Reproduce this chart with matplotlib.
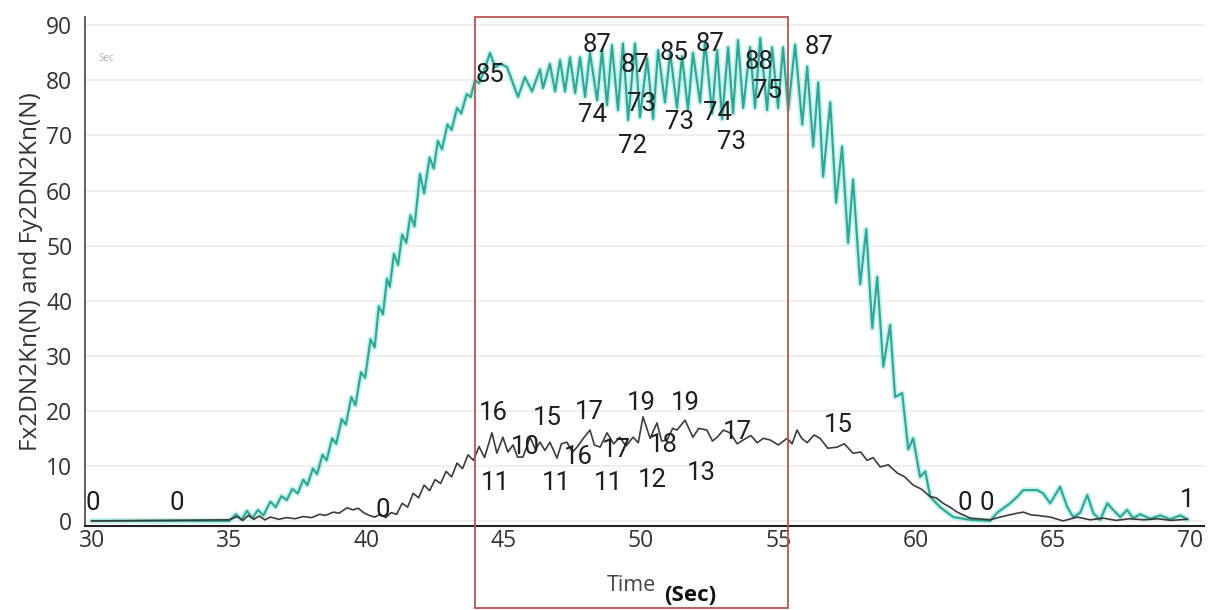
import matplotlib
matplotlib.use("Agg")
import matplotlib.pyplot as plt
from matplotlib.patches import Rectangle

plt.rcParams['font.family'] = ['Open Sans', 'DejaVu Sans']

# teal trace (Fy2DN2Kn), time in sec, force in N
fy_time = [30.0, 35.0, 35.25, 35.45, 35.65, 35.85, 36.05, 36.25, 36.5, 36.7, 36.9, 37.1,
           37.3, 37.5, 37.7, 37.85, 38.05, 38.2, 38.4, 38.55, 38.75, 38.9, 39.1, 39.25,
           39.45, 39.6, 39.8, 39.95, 40.15, 40.3, 40.45, 40.6, 40.75, 40.85, 41.0, 41.15,
           41.3, 41.45, 41.6, 41.75, 41.95, 42.1, 42.3, 42.45, 42.6, 42.75, 42.95, 43.1,
           43.3, 43.45, 43.65, 43.8, 43.95, 44.1, 44.3, 44.5, 44.68, 44.9, 45.12, 45.52,
           45.77, 46.03, 46.32, 46.43, 46.68, 46.87, 47.05, 47.23, 47.41, 47.6, 47.78,
           47.96, 48.14, 48.4, 48.58, 48.76, 48.94, 49.16, 49.34, 49.53, 49.78, 49.96,
           50.22, 50.44, 50.62, 50.87, 51.06, 51.31, 51.49, 51.71, 51.89, 52.15, 52.33,
           52.59, 52.77, 52.95, 53.17, 53.35, 53.53, 53.72, 53.97, 54.15, 54.34, 54.59,
           54.77, 54.99, 55.17, 55.36, 55.61, 55.87, 56.05, 56.27, 56.45, 56.63, 56.89,
           57.1, 57.32, 57.54, 57.72, 57.98, 58.2, 58.42, 58.6, 58.82, 59.07, 59.25,
           59.51, 59.73, 59.91, 60.16, 60.35, 60.53, 60.89, 61.37, 61.99, 62.71, 62.97,
           63.44, 63.7, 63.92, 64.17, 64.43, 64.64, 64.9, 65.26, 65.52, 65.74, 65.99,
           66.25, 66.47, 66.72, 66.98, 67.19, 67.45, 67.7, 67.92, 68.18, 68.54, 68.91,
           69.27, 69.64, 69.89]
fy_value = [0.0, 0.0, 1.2, 0.2, 1.8, 0.5, 2.0, 1.0, 3.5, 2.5, 4.5, 3.8,
            5.8, 5.0, 7.5, 6.5, 9.5, 8.5, 12.0, 11.0, 15.0, 14.0, 18.5, 17.5,
            22.5, 21.0, 27.0, 26.0, 33.0, 31.5, 39.0, 37.5, 44.0, 42.5, 48.5, 46.5,
            52.0, 50.5, 55.5, 53.5, 63.0, 59.5, 66.0, 64.0, 69.0, 67.5, 72.0, 71.0,
            75.0, 74.0, 77.5, 77.0, 80.0, 79.5, 82.0, 85.0, 82.4, 83.0, 82.4, 77.0,
            80.6, 78.0, 82.0, 78.6, 83.0, 78.0, 83.7, 78.0, 84.2, 77.7, 84.2,
            77.0, 85.0, 76.4, 85.5, 75.5, 86.4, 74.6, 86.7, 72.8, 86.7, 73.3,
            84.0, 73.0, 85.5, 76.0, 85.0, 75.0, 84.4, 74.7, 85.0, 76.0, 87.0,
            74.0, 85.5, 73.0, 86.0, 74.0, 87.3, 75.0, 86.0, 75.0, 87.7, 74.6,
            86.0, 75.0, 86.0, 74.7, 86.5, 72.0, 82.5, 68.0, 79.6, 62.5, 76.0,
            57.8, 68.0, 50.5, 62.0, 43.0, 53.0, 35.0, 44.3, 28.0, 35.6, 22.5,
            23.2, 13.0, 15.0, 8.0, 9.0, 4.4, 2.5, 0.7, 0.2, 0.0, 1.5,
            3.2, 4.4, 5.6, 5.6, 5.6, 5.0, 3.2, 6.2, 2.5, 0.7, 1.5,
            4.7, 1.4, 0.2, 3.2, 2.0, 0.7, 2.0, 0.5, 1.2, 0.4, 1.0,
            0.3, 1.0, 0.3]

# dark trace (Fx2DN2Kn)
fx_time = [30.0, 35.0, 35.3, 35.5, 35.7, 35.9, 36.1, 36.3, 36.5, 36.8, 37.1, 37.4,
           37.7, 38.0, 38.3, 38.5, 38.8, 39.0, 39.3, 39.5, 39.7, 39.9, 40.1, 40.3,
           40.5, 40.7, 40.9, 41.1, 41.3, 41.5, 41.7, 41.9, 42.1, 42.3, 42.5, 42.7,
           42.9, 43.1, 43.3, 43.5, 43.7, 43.9, 44.1, 44.3, 44.57, 44.75, 44.97, 45.15,
           45.34, 45.5, 45.7, 45.96, 46.15, 46.32, 46.5, 46.68, 46.94, 47.1, 47.3,
           47.5, 47.67, 47.9, 48.14, 48.3, 48.51, 48.76, 49.0, 49.23, 49.45, 49.71,
           49.9, 50.07, 50.33, 50.58, 50.75, 50.95, 51.15, 51.31, 51.6, 51.89, 52.1,
           52.4, 52.6, 52.77, 53.0, 53.24, 53.5, 53.72, 54.0, 54.23, 54.45, 54.7,
           55.0, 55.32, 55.5, 55.68, 55.85, 56.05, 56.3, 56.52, 56.8, 57.14, 57.4,
           57.72, 58.0, 58.23, 58.45, 58.71, 59.0, 59.33, 59.6, 59.91, 60.2, 60.53,
           60.75, 61.0, 61.25, 61.51, 61.99, 62.71, 63.0, 63.33, 63.7, 63.92, 64.2,
           64.43, 64.9, 65.37, 65.88, 66.36, 66.83, 67.3, 67.8, 68.3, 68.8, 69.3, 69.89]
fx_value = [0.0, 0.2, 0.8, 0.1, 1.0, 0.3, 0.9, 0.2, 0.7, 0.3, 0.6, 0.4,
            0.8, 0.6, 1.2, 1.0, 1.6, 1.4, 2.4, 2.0, 2.3, 1.5, 1.0, 0.7,
            1.2, 0.6, 1.5, 1.2, 3.2, 2.5, 5.0, 4.2, 6.5, 5.5, 7.5, 6.8,
            9.0, 8.0, 10.5, 9.5, 12.0, 11.0, 13.5, 11.5, 16.0, 12.3, 15.2, 12.5,
            13.8, 11.6, 11.6, 15.2, 13.0, 14.3, 12.8, 14.3, 11.4, 14.0, 14.3,
            12.5, 13.4, 15.0, 16.5, 13.8, 13.4, 16.0, 14.0, 15.2, 13.6, 15.2,
            14.2, 18.9, 15.0, 17.8, 14.5, 14.7, 16.8, 16.5, 18.3, 15.2, 16.8,
            16.5, 14.5, 15.2, 16.5, 16.0, 14.0, 14.7, 15.5, 14.2, 15.0, 14.7,
            13.8, 15.0, 14.0, 16.5, 15.0, 14.2, 15.6, 15.0, 13.2, 13.4, 14.0,
            12.3, 12.5, 11.0, 11.5, 9.8, 10.2, 8.7, 8.0, 6.5, 5.8, 4.4,
            4.2, 3.2, 2.5, 1.6, 0.5, 0.2, 0.6, 1.0, 1.4, 1.6, 1.1,
            1.0, 0.7, 0.0, 0.7, 0.2, 0.5, 0.1, 0.4, 0.2, 0.4, 0.1, 0.3]

# value labels written on the chart
fy_labels = ['85', '87', '87', '85', '87', '88', '75', '87',
             '74', '73', '72', '73', '74', '73']
fy_lab_t = [44.5, 48.4, 49.8, 51.2, 52.5, 54.3, 54.6, 56.5,
            48.25, 50.0, 49.7, 51.4, 52.8, 53.3]
fy_lab_y = [81.0, 86.4, 82.8, 85.0, 86.7, 83.3, 78.0, 86.0,
            73.7, 75.8, 68.0, 72.4, 74.0, 68.8]

fx_labels = ['16', '10', '15', '17', '19', '19', '16', '17', '18', '17', '15',
             '11', '11', '11', '12', '13', '0', '0', '0', '0', '0', '1']
fx_lab_t = [44.6, 45.8, 46.6, 48.1, 50.0, 51.6, 47.7, 49.1, 50.8, 53.5, 57.2,
            44.7, 46.9, 48.8, 50.4, 52.2, 30.05, 33.1, 40.6, 61.8, 62.6, 69.9]
fx_lab_y = [19.6, 13.4, 18.7, 19.8, 21.4, 21.4, 11.6, 12.9, 13.8, 16.2, 17.4,
            6.9, 6.9, 6.9, 7.4, 8.7, 3.3, 3.3, 2.0, 3.3, 3.3, 3.8]

y_ticks = [0, 10, 20, 30, 40, 50, 60, 70, 80, 90]
x_ticks = [30, 35, 40, 45, 50, 55, 60, 65, 70]

fig = plt.figure(figsize=(12.19, 6.10), dpi=100)
ax = fig.add_axes([0.0697, 0.137, 0.918, 0.835])

ax.plot(fy_time, fy_value, color='#a8ece4', lw=4.0, alpha=0.7, solid_joinstyle='round', zorder=2)
ax.plot(fy_time, fy_value, color='#2fa595', lw=1.5, solid_joinstyle='round', zorder=3)
ax.plot(fx_time, fx_value, color='#3c3c3c', lw=1.2, solid_joinstyle='round', zorder=4)

for s, t, v in zip(fy_labels + fx_labels, fy_lab_t + fx_lab_t, fy_lab_y + fx_lab_y):
    ax.text(t, v, s, ha='center', va='center', fontsize=18.5, color='#1e1e1e',
            family=['Roboto', 'DejaVu Sans'], zorder=5)

ax.text(30.25, 83.5, 'Sec', fontsize=7, color='#b0b0b0')

ax.add_patch(Rectangle((43.95, -15.8), 55.35 - 43.95, 91.5 + 15.8, fill=False,
                       edgecolor='#b4574f', lw=1.3, clip_on=False, zorder=6))

ax.set_xlim(29.75, 70.5)
ax.set_ylim(-1, 91.5)
ax.set_yticks(y_ticks)
ax.set_xticks(x_ticks)
ax.grid(axis='y', color='#ececec', lw=1.2)
ax.set_axisbelow(True)
for side in ['top', 'right']:
    ax.spines[side].set_visible(False)
ax.spines['left'].set_color('#555555')
ax.spines['left'].set_linewidth(1.3)
ax.spines['bottom'].set_color('#222222')
ax.spines['bottom'].set_linewidth(1.5)
ax.tick_params(axis='y', length=0, pad=9, labelsize=16.5, labelcolor='#333333')
ax.tick_params(axis='x', length=0, pad=2, labelsize=16.5, labelcolor='#333333')

ax.set_ylabel('Fx2DN2Kn(N) and Fy2DN2Kn(N)', fontsize=17.5, color='#333333', labelpad=2)
fig.text(0.518, 0.040, 'Time', fontsize=15.5, color='#444444', ha='center', va='center')
fig.text(0.566, 0.023, '(Sec)', fontsize=16, color='#111111', ha='center', va='center',
         weight='bold')

fig.savefig('out.png', dpi=100)
